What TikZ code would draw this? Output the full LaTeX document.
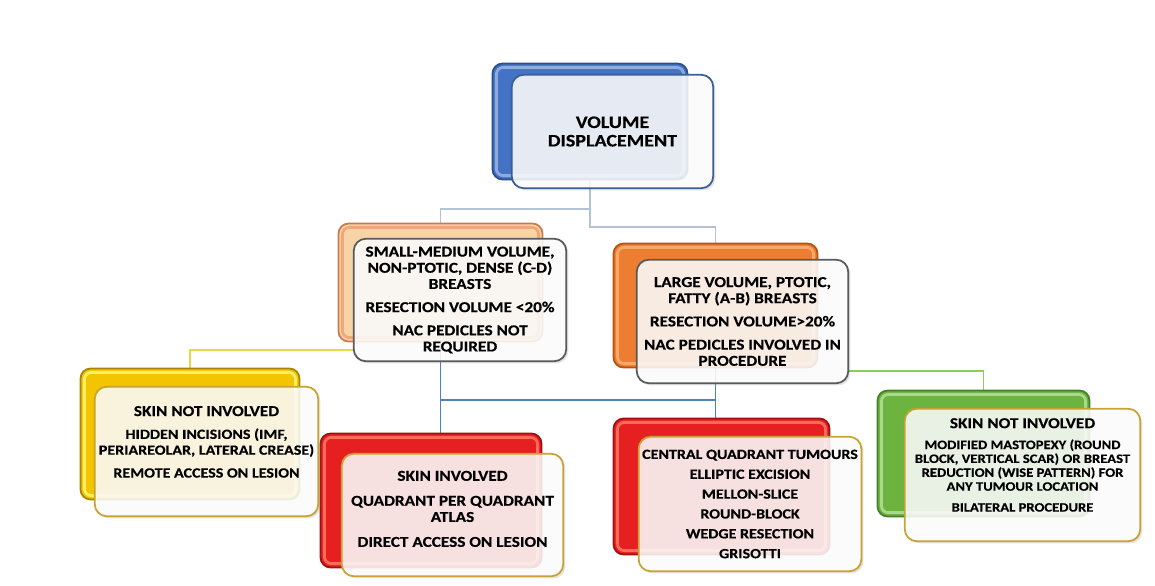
\documentclass[tikz,border=0pt]{standalone}
\usepackage{fontspec}
\setmainfont{Carlito}[FakeStretch=1.14,BoldFeatures={FakeBold=0.4}]
\usetikzlibrary{calc,positioning,shadows,backgrounds}

\definecolor{boxblue}{HTML}{4472C4}
\definecolor{edgeblue}{HTML}{2A4F8F}
\definecolor{rimblue}{HTML}{8FAADC}
\definecolor{boxpeach}{HTML}{F7D3A8}
\definecolor{edgepeach}{HTML}{C87C4C}
\definecolor{rimpeach}{HTML}{EFA878}
\definecolor{boxorange}{HTML}{ED7D31}
\definecolor{edgeorange}{HTML}{B8520E}
\definecolor{rimorange}{HTML}{F6A96B}
\definecolor{boxyellow}{HTML}{F2C500}
\definecolor{edgeyellow}{HTML}{A88400}
\definecolor{rimyellow}{HTML}{FFEE66}
\definecolor{boxred}{HTML}{E62020}
\definecolor{edgered}{HTML}{A01010}
\definecolor{rimred}{HTML}{FF6A5A}
\definecolor{boxgreen}{HTML}{6DB33F}
\definecolor{edgegreen}{HTML}{44822A}
\definecolor{rimgreen}{HTML}{A8D88A}
\definecolor{lineroot}{HTML}{3B5F94}
\definecolor{linemid}{HTML}{5A5A5A}
\definecolor{linegold}{HTML}{C8A232}
\definecolor{wiregrey}{HTML}{B4C2D6}
\definecolor{wireyellow}{HTML}{E6D84A}
\definecolor{wireblue}{HTML}{4F81BD}
\definecolor{wiregreen}{HTML}{8CCB5E}

\begin{document}
\begin{tikzpicture}[x=0.02cm,y=-0.02cm,every node/.style={font=\bfseries},
  backbox/.style={fill=box#1,draw=edge#1,line width=1pt,rounded corners=0.2cm,inner sep=0pt,
    path picture={\draw[rim#1,line width=1.6pt,rounded corners=0.14cm]
      ([shift={(2.2pt,2.2pt)}]path picture bounding box.south west) rectangle
      ([shift={(-2.2pt,-2.2pt)}]path picture bounding box.north east);}},
  frontbox/.style={fill=white,fill opacity=0.85,text opacity=1,draw=#1,
    line width=1pt,rounded corners=0.24cm,align=center,inner sep=2pt,
    drop shadow={shadow xshift=1.2pt,shadow yshift=-1.2pt,opacity=0.22}},
  wire/.style={draw=#1,line width=1pt}]
  \def\rootfont{\fontsize{10}{10.5}\selectfont\bfseries}
  \def\midfont{\fontsize{8.6}{9.2}\selectfont\bfseries}
  \def\lowfont{\fontsize{8}{9}\selectfont\bfseries}
  \def\tinyfont{\fontsize{7.3}{7.9}\selectfont\bfseries}
  \useasboundingbox (0,0) rectangle (1155,585);

  \foreach \nm/\cx/\cy/\w/\h/\col in {
    rootback/590/121.5/3.9/2.32/blue,
    smallback/440.5/282.5/4.08/2.36/peach,
    largeback/715.5/305.5/4.08/2.48/orange,
    yellowback/190/434/4.38/2.62/yellow,
    redback/431/500.5/4.42/2.68/red,
    centralback/721.5/486.5/4.32/2.72/red,
    greenback/983.5/453.5/4.24/2.52/green} {
    \node[backbox=\col,minimum width=\w cm,minimum height=\h cm] (\nm) at (\cx,\cy) {};
  }

  \node[frontbox=lineroot,minimum width=4.03cm,minimum height=2.27cm,font=\rootfont]
    (root) at (612.5,131.5) {VOLUME\\DISPLACEMENT};
  \node[frontbox=linemid,minimum width=4.25cm,minimum height=2.45cm,font=\midfont]
    (small) at (460,300) {SMALL-MEDIUM VOLUME,\\NON-PTOTIC, DENSE (C-D)\\BREASTS\\[4pt]
    RESECTION  VOLUME <20\%\\[4pt]NAC PEDICLES NOT\\REQUIRED};
  \node[frontbox=linemid,minimum width=4.23cm,minimum height=2.47cm,font=\midfont]
    (large) at (742.5,321.5) {LARGE VOLUME, PTOTIC,\\FATTY (A-B) BREASTS\\[4pt]
    RESECTION  VOLUME>20\%\\[4pt]NAC PEDICLES INVOLVED IN\\PROCEDURE};
  \node[frontbox=linegold,minimum width=4.47cm,minimum height=2.59cm,font=\lowfont,
    text depth=11pt]
    (skinno) at (206.5,451.5) {{\midfont SKIN NOT INVOLVED}\\[4pt]HIDDEN INCISIONS (IMF,\\
    PERIAREOLAR, LATERAL CREASE)\\[4pt]REMOTE ACCESS ON LESION};
  \node[frontbox=linegold,minimum width=4.43cm,minimum height=2.45cm,font=\midfont,
    text depth=7pt]
    (skinyes) at (452.5,515) {SKIN INVOLVED\\[5pt]QUADRANT PER QUADRANT\\ATLAS\\[5pt]
    DIRECT ACCESS ON LESION};
  \node[frontbox=linegold,minimum width=4.45cm,minimum height=2.69cm,
    font=\fontsize{8}{11.3}\selectfont\bfseries]
    (central) at (750,504) {CENTRAL QUADRANT TUMOURS\\ELLIPTIC EXCISION\\MELLON-SLICE\\
    ROUND-BLOCK\\WEDGE RESECTION\\GRISOTTI};
  \node[frontbox=linegold,minimum width=4.71cm,minimum height=2.65cm,font=\tinyfont,
    text depth=11.5pt]
    (skinno2) at (1022.5,475) {{\midfont SKIN NOT INVOLVED}\\[4pt]MODIFIED MASTOPEXY (ROUND\\
    BLOCK, VERTICAL SCAR) OR BREAST\\REDUCTION (WISE PATTERN) FOR\\ANY TUMOUR LOCATION\\[4pt]
    BILATERAL PROCEDURE};

  \coordinate (bar) at (0,400);
  \begin{scope}[on background layer]
    \draw[wire=wiregrey] (rootback.south) -- ++(0,29) -| (smallback.north);
    \draw[wire=wiregrey] (rootback.south) -- ++(0,47) -| (largeback.north);
    \draw[wire=wireyellow] ([yshift=0.24cm]small.south west) -| (yellowback.north);
    \draw[wire=wireblue] (smallback.south) -- (smallback.south |- redback.north);
    \draw[wire=wireblue] (largeback.south) -- (largeback.south |- centralback.north);
    \draw[wire=wireblue] (bar -| smallback.south) -- (bar -| largeback.south);
    \draw[wire=wiregreen] ([yshift=0.26cm]large.south east) -| (greenback.north);
  \end{scope}
\end{tikzpicture}
\end{document}
